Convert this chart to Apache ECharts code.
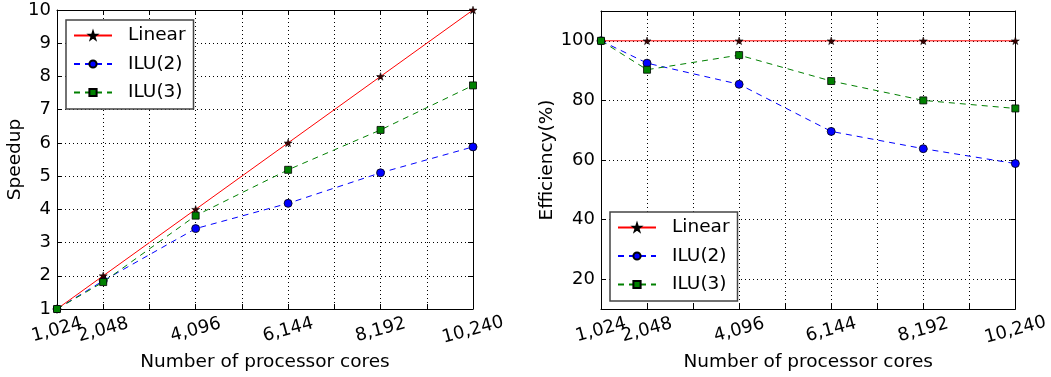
<!DOCTYPE html>
<html>
<head>
<meta charset="utf-8">
<script src="https://cdn.jsdelivr.net/npm/echarts@6/dist/echarts.min.js"></script>
<style>
  html, body { margin: 0; padding: 0; background: #fff; }
  #chart { width: 1051px; height: 377px; }
</style>
</head>
<body>
<div id="chart"></div>
<script>
// data
const cores = [1024, 2048, 4096, 6144, 8192, 10240];
const speedLinear = [1, 2, 4, 6, 8, 10];
const speedIlu2 = [1, 1.85, 3.42, 4.18, 5.10, 5.88];
const speedIlu3 = [1, 1.81, 3.81, 5.19, 6.39, 7.73];
const effLinear = [100, 100, 100, 100, 100, 100];
const effIlu2 = [100, 92.5, 85.4, 69.6, 63.8, 58.8];
const effIlu3 = [100, 90.3, 95.2, 86.5, 80.0, 77.3];
const effTicks = [20, 40, 60, 80, 100];

const FONT = 'DejaVu Sans';
const STAR = 'path://M50,0 L61.2,34.5 L97.6,34.5 L68.2,55.9 L79.4,90.5 L50,69.1 L20.6,90.5 L31.8,55.9 L2.4,34.5 L38.8,34.5 Z';

const pairs = (ys) => cores.map((c, i) => [c, ys[i]]);
const fmt = (v) => String(v).replace(/\B(?=(\d{3})+(?!\d))/g, ',');

const tickLabel = {
  formatter: fmt, rotate: 15, margin: 21,
  align: 'center', verticalAlign: 'middle', hideOverlap: false,
  fontFamily: FONT, fontSize: 18, color: '#000'
};

function xAxes(grid, name) {
  const base = {
    type: 'value', gridIndex: grid, min: 1024, max: 10240, interval: 1024,
    axisLine: { lineStyle: { color: '#000', width: 1 } },
    axisTick: { inside: true, length: 5, lineStyle: { color: '#000' } },
  };
  return [
    {
      ...base, position: 'bottom',
      name: name, nameLocation: 'middle', nameGap: 51,
      nameTextStyle: { fontFamily: FONT, fontSize: 18.5, color: '#000', verticalAlign: 'middle' },
      // first label is drawn by its own axis below, else ECharts drops one of the overlapping pair
      axisLabel: { ...tickLabel, customValues: cores.slice(1) },
      splitLine: { show: true, lineStyle: { type: [1, 3], color: '#000', width: 1 } }
    },
    { ...base, position: 'top', axisLabel: { show: false }, splitLine: { show: false } },
    {
      ...base, position: 'bottom',
      axisLine: { show: false }, axisTick: { show: false }, splitLine: { show: false },
      axisLabel: { ...tickLabel, customValues: cores.slice(0, 1) }
    }
  ];
}

function yAxes(grid, name, gap, extra) {
  const base = {
    type: 'value', gridIndex: grid, ...extra,
    axisLine: { show: true, lineStyle: { color: '#000', width: 1 } },
    axisTick: { show: true, inside: true, length: 5, lineStyle: { color: '#000' }, customValues: extra.ticks },
  };
  delete base.ticks;
  return [
    {
      ...base, position: 'left',
      name: name, nameLocation: 'middle', nameGap: gap,
      nameTextStyle: { fontFamily: FONT, fontSize: 18.5, color: '#000', verticalAlign: 'middle' },
      axisLabel: { margin: 6, fontFamily: FONT, fontSize: 18, color: '#000', customValues: extra.ticks },
      splitLine: { show: true, lineStyle: { type: [1, 3], color: '#000', width: 1 } }
    },
    { ...base, position: 'right', axisLabel: { show: false }, splitLine: { show: false } }
  ];
}

function seriesSet(xi, yi, lin, ilu2, ilu3) {
  return [
    {
      name: 'Linear', type: 'line', xAxisIndex: xi, yAxisIndex: yi, data: pairs(lin),
      symbol: STAR, symbolKeepAspect: true, symbolSize: 8,
      lineStyle: { color: '#ff0000', width: 1 },
      itemStyle: { color: '#3a0000', borderColor: '#000', borderWidth: 0.5 },
      z: 3
    },
    {
      name: 'ILU(2)', type: 'line', xAxisIndex: xi, yAxisIndex: yi, data: pairs(ilu2),
      symbol: 'circle', symbolSize: 8,
      lineStyle: { color: '#0000ff', width: 1, type: [6, 5] },
      itemStyle: { color: '#0000ff', borderColor: '#000', borderWidth: 0.8 },
      z: 2
    },
    {
      name: 'ILU(3)', type: 'line', xAxisIndex: xi, yAxisIndex: yi, data: pairs(ilu3),
      symbol: 'rect', symbolSize: 7,
      lineStyle: { color: '#008000', width: 1, type: [6, 5] },
      itemStyle: { color: '#008000', borderColor: '#000', borderWidth: 0.8 },
      z: 4
    }
  ];
}

function legendAt(left, top) {
  return {
    orient: 'vertical', left: left, top: top,
    data: ['Linear', 'ILU(2)', 'ILU(3)'],
    itemWidth: 38, itemHeight: 9, itemGap: 9.5,
    padding: [6, 8, 7, 7],
    backgroundColor: '#fff', borderColor: '#444', borderWidth: 1.5, borderRadius: 0,
    textStyle: { fontFamily: FONT, fontSize: 18.5, lineHeight: 18, color: '#000', padding: [0, 0, 0, 11] },
    selectedMode: false
  };
}

const chart = echarts.init(document.getElementById('chart'), null, { renderer: 'canvas' });
chart.setOption({
  animation: false,
  backgroundColor: '#fff',
  grid: [
    { left: 57, right: 578, top: 10, bottom: 68 },
    { left: 601, right: 33, top: 11, bottom: 68 }
  ],
  xAxis: [...xAxes(0, 'Number of processor cores'), ...xAxes(1, 'Number of processor cores')],
  yAxis: [
    ...yAxes(0, 'Speedup', 40, { min: 1, max: 10, interval: 1 }),
    ...yAxes(1, 'Efficiency(%)', 50, { min: 10, max: 110, ticks: effTicks })
  ],
  legend: [legendAt(66, 20), legendAt(610, 212)],
  series: [
    ...seriesSet(0, 0, speedLinear, speedIlu2, speedIlu3),
    ...seriesSet(3, 2, effLinear, effIlu2, effIlu3)
  ]
});
</script>
</body>
</html>
